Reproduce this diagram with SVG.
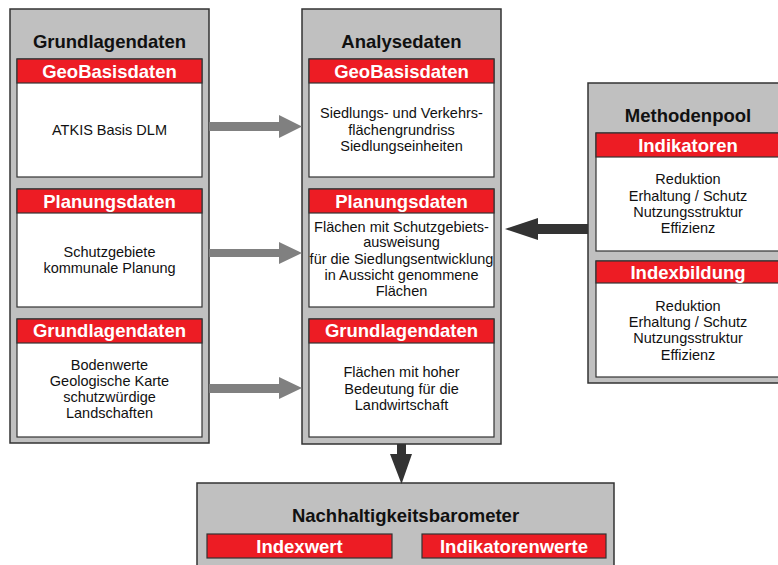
<svg xmlns="http://www.w3.org/2000/svg" width="778" height="565" viewBox="0 0 778 565">
  <style>
    .panel { fill: #c0c0c0; stroke: #333333; stroke-width: 1.5; }
    .box { fill: #ffffff; stroke: #333333; stroke-width: 1.2; }
    .hdr { fill: #ed1c24; stroke: #333333; stroke-width: 1.2; }
    .title { font-family: "Liberation Sans", Arial, sans-serif; font-weight: bold; font-size: 18.5px; fill: #111111; text-anchor: middle; }
    .htxt { font-family: "Liberation Sans", Arial, sans-serif; font-weight: bold; font-size: 18.5px; fill: #ffffff; text-anchor: middle; }
    .body { font-family: "Liberation Sans", Arial, sans-serif; font-size: 14.5px; fill: #111111; text-anchor: middle; }
    .flow { fill: #808080; }
    .dark { fill: #333333; }
  </style>

  <!-- Left column: source data -->
  <g id="grundlagendaten">
    <rect class="panel" x="10" y="9" width="199" height="434"/>
    <text class="title" x="109.5" y="48">Grundlagendaten</text>
  </g>
  <g id="grund-geobasis">
    <rect class="box" x="17" y="59" width="185" height="118"/>
    <rect class="hdr" x="17" y="59" width="185" height="24"/>
    <text class="htxt" x="109.5" y="78">GeoBasisdaten</text>
    <text class="body" x="109.5" y="135">ATKIS Basis DLM</text>
  </g>
  <g id="grund-planung">
    <rect class="box" x="17" y="189" width="185" height="118"/>
    <rect class="hdr" x="17" y="189" width="185" height="24"/>
    <text class="htxt" x="109.5" y="207.5">Planungsdaten</text>
    <text class="body" x="109.5" y="256.5">Schutzgebiete</text>
    <text class="body" x="109.5" y="273">kommunale Planung</text>
  </g>
  <g id="grund-grundlagen">
    <rect class="box" x="17" y="319" width="185" height="118"/>
    <rect class="hdr" x="17" y="319" width="185" height="24"/>
    <text class="htxt" x="109.5" y="337">Grundlagendaten</text>
    <text class="body" x="109.5" y="370">Bodenwerte</text>
    <text class="body" x="109.5" y="386">Geologische Karte</text>
    <text class="body" x="109.5" y="402">schutzwürdige</text>
    <text class="body" x="109.5" y="418">Landschaften</text>
  </g>

  <!-- Middle column: analysis data -->
  <g id="analysedaten">
    <rect class="panel" x="302" y="9" width="199" height="435"/>
    <text class="title" x="401.5" y="48">Analysedaten</text>
  </g>
  <g id="analyse-geobasis">
    <rect class="box" x="309" y="59" width="185" height="118"/>
    <rect class="hdr" x="309" y="59" width="185" height="24"/>
    <text class="htxt" x="401.5" y="78">GeoBasisdaten</text>
    <text class="body" x="401.5" y="118">Siedlungs- und Verkehrs-</text>
    <text class="body" x="401.5" y="134.5">flächengrundriss</text>
    <text class="body" x="401.5" y="151">Siedlungseinheiten</text>
  </g>
  <g id="analyse-planung">
    <rect class="box" x="309" y="189" width="185" height="118"/>
    <rect class="hdr" x="309" y="189" width="185" height="24"/>
    <text class="htxt" x="401.5" y="207.5">Planungsdaten</text>
    <text class="body" x="401.5" y="231.5">Flächen mit Schutzgebiets-</text>
    <text class="body" x="401.5" y="247">ausweisung</text>
    <text class="body" x="401.5" y="263.5">für die Siedlungsentwicklung</text>
    <text class="body" x="401.5" y="280">in Aussicht genommene</text>
    <text class="body" x="401.5" y="296">Flächen</text>
  </g>
  <g id="analyse-grundlagen">
    <rect class="box" x="309" y="319" width="185" height="118"/>
    <rect class="hdr" x="309" y="319" width="185" height="24"/>
    <text class="htxt" x="401.5" y="337">Grundlagendaten</text>
    <text class="body" x="401.5" y="377">Flächen mit hoher</text>
    <text class="body" x="401.5" y="393.5">Bedeutung für die</text>
    <text class="body" x="401.5" y="409.5">Landwirtschaft</text>
  </g>

  <!-- Right column: method pool -->
  <g id="methodenpool">
    <rect class="panel" x="588" y="83" width="199" height="300"/>
    <text class="title" x="688" y="122">Methodenpool</text>
  </g>
  <g id="methoden-indikatoren">
    <rect class="box" x="596" y="133" width="185" height="118"/>
    <rect class="hdr" x="596" y="133" width="185" height="24"/>
    <text class="htxt" x="688" y="152">Indikatoren</text>
    <text class="body" x="688" y="184">Reduktion</text>
    <text class="body" x="688" y="200.5">Erhaltung / Schutz</text>
    <text class="body" x="688" y="216.5">Nutzungsstruktur</text>
    <text class="body" x="688" y="232.5">Effizienz</text>
  </g>
  <g id="methoden-indexbildung">
    <rect class="box" x="596" y="261" width="185" height="116"/>
    <rect class="hdr" x="596" y="261" width="185" height="22"/>
    <text class="htxt" x="688" y="278.5">Indexbildung</text>
    <text class="body" x="688" y="311">Reduktion</text>
    <text class="body" x="688" y="327">Erhaltung / Schutz</text>
    <text class="body" x="688" y="343">Nutzungsstruktur</text>
    <text class="body" x="688" y="359.5">Effizienz</text>
  </g>

  <!-- Bottom: result -->
  <g id="nachhaltigkeitsbarometer">
    <rect class="panel" x="197" y="483" width="417" height="90"/>
    <text class="title" x="405.5" y="522">Nachhaltigkeitsbarometer</text>
    <rect class="hdr" x="207" y="534" width="185" height="24"/>
    <text class="htxt" x="299.5" y="552.5">Indexwert</text>
    <rect class="hdr" x="422" y="534" width="184" height="24"/>
    <text class="htxt" x="514" y="552.5">Indikatorenwerte</text>
  </g>

  <!-- Connectors -->
  <g id="connectors">
    <polygon class="flow" points="209,122 279,122 279,115 302,126.5 279,138 279,131 209,131"/>
    <polygon class="flow" points="209,249 279,249 279,242 302,253 279,264 279,257 209,257"/>
    <polygon class="flow" points="209,384 279,384 279,377 302,388 279,399 279,393 209,393"/>
    <polygon class="dark" points="588,224 538,224 538,218 505,229 538,240 538,234 588,234"/>
    <polygon class="dark" points="397,444 406,444 406,454 412,454 401.5,484 390,454 397,454"/>
  </g>
</svg>
